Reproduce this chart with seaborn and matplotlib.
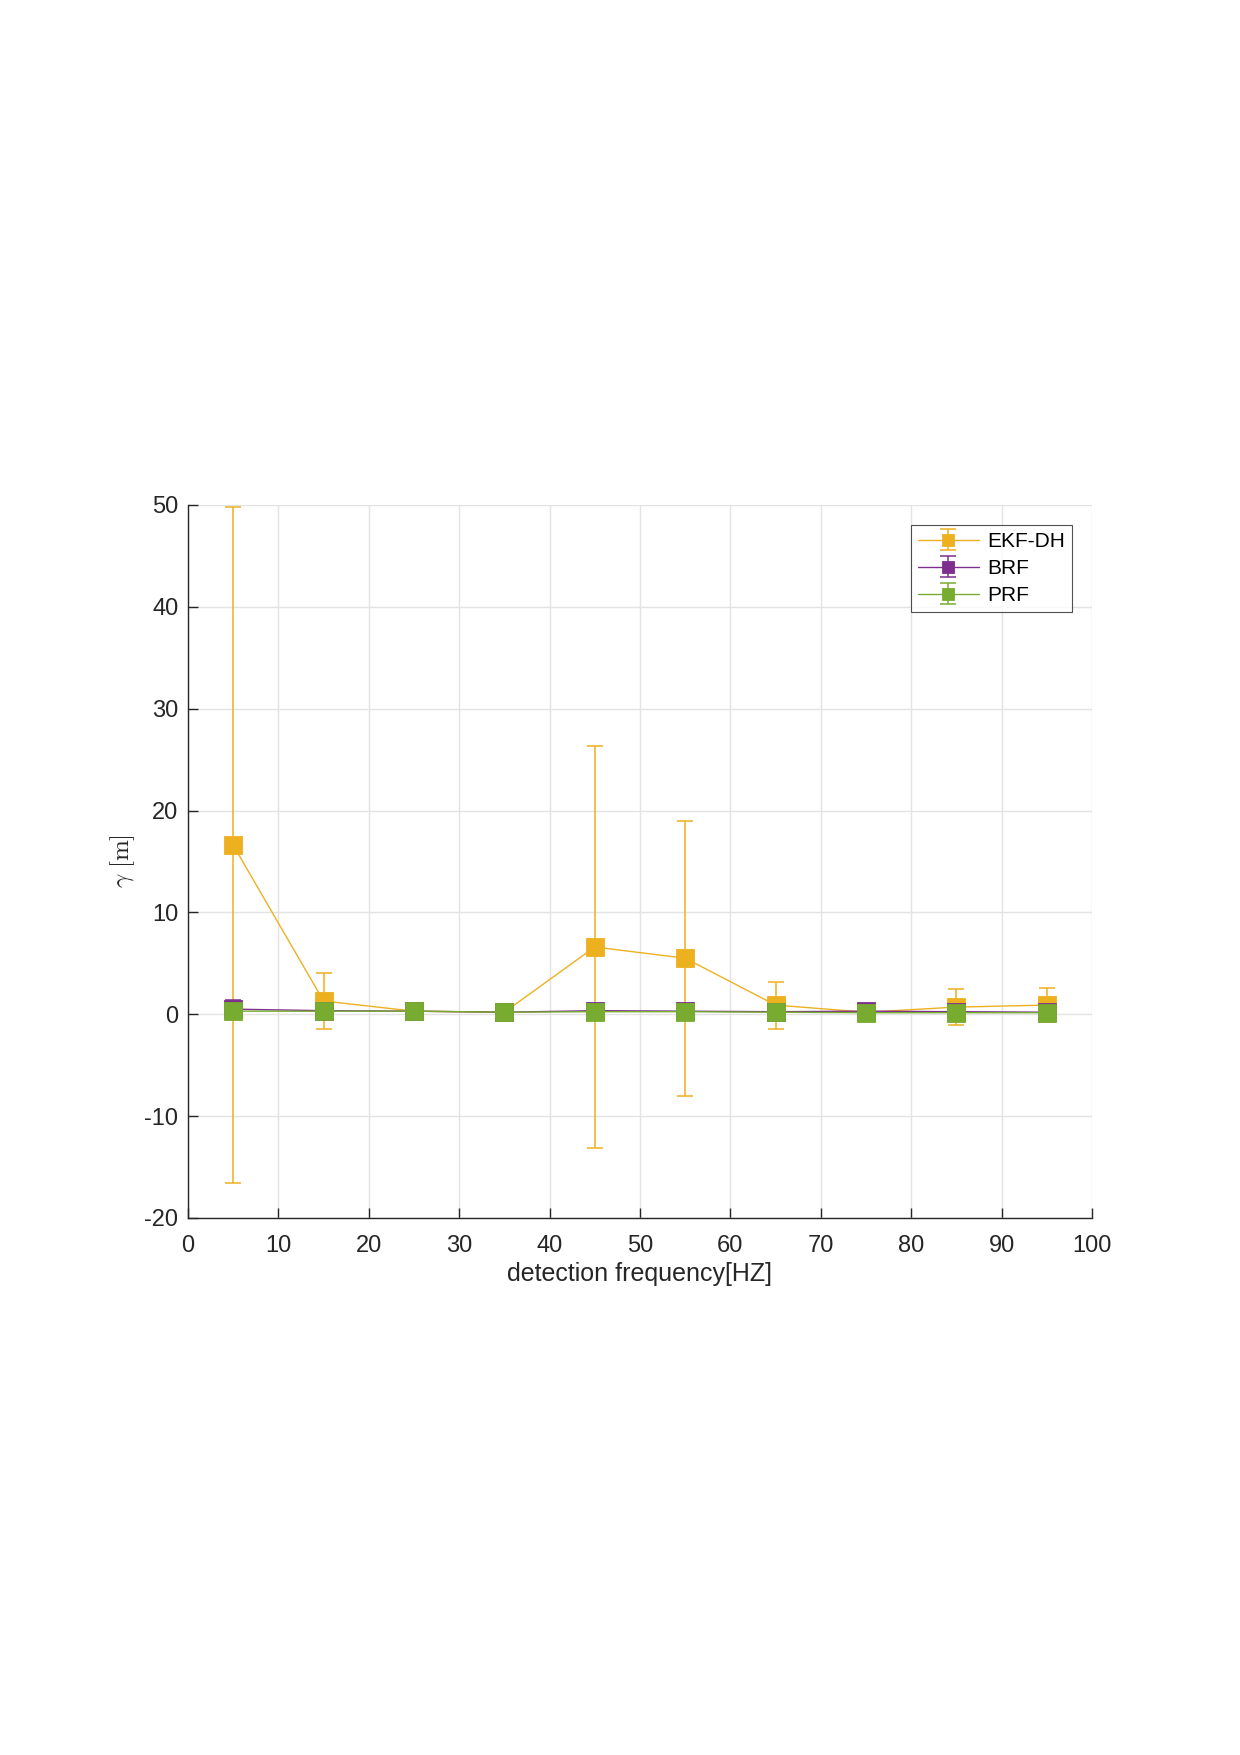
import matplotlib

matplotlib.use("Agg")
import matplotlib.pyplot as plt
import numpy as np
import pandas as pd
import seaborn as sns

# data
freq = [5, 15, 25, 35, 45, 55, 65, 75, 85, 95]
ekf_mean = [16.6, 1.3, 0.3, 0.2, 6.6, 5.5, 0.9, 0.2, 0.7, 0.9]
ekf_std = [33.2, 2.7, 0.3, 0.2, 19.7, 13.5, 2.3, 0.3, 1.8, 1.7]
brf_mean = [0.5, 0.35, 0.3, 0.2, 0.35, 0.3, 0.25, 0.3, 0.25, 0.2]
brf_std = [0.9, 0.4, 0.3, 0.2, 0.4, 0.3, 0.4, 0.3, 0.5, 0.4]
prf_mean = [0.3, 0.3, 0.3, 0.2, 0.25, 0.25, 0.2, 0.15, 0.15, 0.15]
prf_std = [0.5, 0.4, 0.3, 0.2, 0.4, 0.3, 0.5, 0.2, 0.6, 0.6]

series = ["EKF-DH", "BRF", "PRF"]
colors = {"EKF-DH": "#EDB120", "BRF": "#7E2F8E", "PRF": "#77AC30"}

df = pd.concat(
    [
        pd.DataFrame({"freq": freq, "gamma": m, "std": s, "method": name})
        for name, m, s in zip(
            series, [ekf_mean, brf_mean, prf_mean], [ekf_std, brf_std, prf_std]
        )
    ],
    ignore_index=True,
)

sns.set_style("white")
plt.rcParams["font.family"] = ["Liberation Sans", "DejaVu Sans"]
plt.rcParams["mathtext.fontset"] = "cm"
plt.rcParams["axes.unicode_minus"] = False

fig = plt.figure(figsize=(12.4, 17.55), dpi=100)
ax = fig.add_axes([0.1516, 0.306, 0.729, 0.4063])

handles = []
for i, name in enumerate(series):
    sub = df[df["method"] == name]
    eb = ax.errorbar(
        sub["freq"], sub["gamma"], yerr=sub["std"], fmt="none",
        ecolor=colors[name], elinewidth=1.3, capsize=6, capthick=1.3,
        alpha=0.85, zorder=2 + i * 2,
    )
    sns.lineplot(
        data=sub, x="freq", y="gamma", color=colors[name], marker="s",
        markersize=13, markeredgewidth=0.6, markeredgecolor=colors[name],
        linewidth=1.0, ax=ax, zorder=3 + i * 2, legend=False,
    )
    handles.append((ax.lines[-1], eb))

ax.set_xlim(0, 100)
ax.set_ylim(-20, 50)
ax.set_xticks(np.arange(0, 101, 10))
ax.set_yticks(np.arange(-20, 51, 10))
ax.grid(True, color="#e3e3e3", linewidth=1.0)
ax.set_axisbelow(True)
for side in ["top", "right"]:
    ax.spines[side].set_visible(False)
for side in ["left", "bottom"]:
    ax.spines[side].set_color("#262626")
    ax.spines[side].set_linewidth(1.0)
ax.tick_params(direction="in", length=7, width=1.0, labelsize=17,
               colors="#262626", left=True, bottom=True)
ax.tick_params(axis="x", pad=12)
ax.tick_params(axis="y", pad=7)

ax.set_xlabel("detection frequency[HZ]", fontsize=18, color="#262626", labelpad=4)
ax.set_ylabel(r"$\gamma\ [\mathrm{m}]$", fontsize=18, color="#262626", labelpad=5)

leg = ax.legend(
    handles, series, loc="upper right", bbox_to_anchor=(0.978, 0.972),
    borderaxespad=0, fontsize=15, frameon=True, fancybox=False,
    edgecolor="#262626", handlelength=2.9, labelspacing=0.38,
    markerscale=0.7, borderpad=0.35, handletextpad=0.4, labelcolor="black",
)
leg.get_frame().set_linewidth(0.8)

plt.savefig("out.png", dpi=100)
plt.close()
